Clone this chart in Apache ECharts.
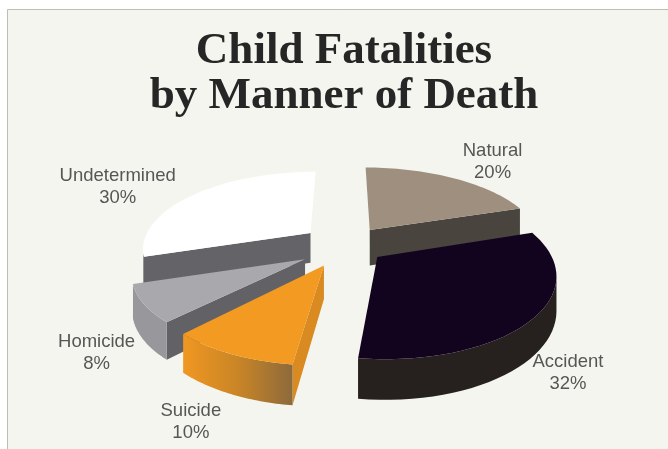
<!DOCTYPE html>
<html><head><meta charset="utf-8">
<style>html,body{margin:0;padding:0;background:#fff}#c{width:668px;height:449px}</style>
<script src="https://cdn.jsdelivr.net/npm/echarts@6/dist/echarts.min.js"></script>
</head><body><div id="c"></div>
<script>
const categories = ['Natural', 'Accident', 'Suicide', 'Homicide', 'Undetermined'];
const percentages = [20, 32, 10, 8, 30];

// look of each slice
const topColors = ['#9f8f7f', '#12041f', '#f29a22', '#a9a9ad', '#ffffff'];
const arcWalls = ['#4a443f', '#26211f', ['#f09722', '#c98526', '#8d6a3c'], '#98989c', '#646468'];
const radialWalls = ['#4a443f', '#26211f', '#d98a20', '#626266', '#646468'];
const paintOrder = [0, 4, 3, 2, 1];
const explode = [0.27, 0.24, 0.27, 0.27, 0.25];
const radiusX = [1.0, 0.97, 0.95, 0.94, 0.96];
const radiusY = [1.05, 1.03, 0.98, 0.94, 1.0];
const depthScale = [1.15, 1.0, 1.0, 1.0, 0.95];
const nudge = [[1, 3], [2, 2], [3, 3], [4, 5], [3, 1]];
const labelShift = [[40, -16], [33, 56], [-40, 68], [-47, 49], [-76, -8]];

// projection of the pie plane
const view = { cx: 342, cy: 243, A: 175, B: 76, k: 0.18, depth: 32 };

function project(x, y, drop, i) {
  const w = 1 - view.k * y;
  return [
    view.cx + nudge[i][0] + view.A * x / w,
    view.cy + nudge[i][1] + view.B * y / w + drop * view.depth * depthScale[i] / w
  ];
}
const total = percentages.reduce((a, b) => a + b, 0);

function renderSlice(params, api) {
  const i = params.dataIndex;
  const value = api.value(0);
  let before = 0;
  for (let j = 0; j < i; j++) before += percentages[j];
  const a0 = before / total * 2 * Math.PI;
  const a1 = (before + value) / total * 2 * Math.PI;
  const mid = (a0 + a1) / 2;
  const ox = explode[i] * Math.sin(mid), oy = -explode[i] * Math.cos(mid);
  const rimPoint = (a, drop) => project(ox + radiusX[i] * Math.sin(a), oy - radiusY[i] * Math.cos(a), drop, i);
  const arc = (drop) => {
    const pts = [];
    const n = 40;
    for (let s = 0; s <= n; s++) pts.push(rimPoint(a0 + (a1 - a0) * s / n, drop));
    return pts;
  };
  const topArc = arc(0), botArc = arc(1);
  const apexT = project(ox, oy, 0, i), apexB = project(ox, oy, 1, i);
  const base = paintOrder.indexOf(i) * 10;
  const children = [];
  const wall = (points, fill, z) => children.push({
    type: 'polygon', shape: { points }, style: { fill, stroke: 'none' }, z2: base + z, silent: true
  });
  // radial walls (only those clearly facing the viewer)
  if (topArc[0][0] < apexT[0] - 12) wall([apexT, topArc[0], botArc[0], apexB], radialWalls[i], 1);
  const last = topArc.length - 1;
  if (apexT[0] < topArc[last][0] - 12) wall([topArc[last], apexT, apexB, botArc[last]], radialWalls[i], 1);
  // outer wall: only the stretch that faces the viewer
  const front = [], frontB = [];
  for (let s = 0; s <= last; s++) {
    const goingLeft = (s < last) ? topArc[s + 1][0] < topArc[s][0] : topArc[s][0] < topArc[s - 1][0];
    if (goingLeft) { front.push(topArc[s]); frontB.push(botArc[s]); }
  }
  if (front.length > 1) {
    let fill = arcWalls[i];
    if (Array.isArray(fill)) {
      const xs = front.map(p => p[0]);
      const x0 = Math.min(...xs), x1 = Math.max(...xs);
      fill = { type: 'linear', x: x0, y: 0, x2: x1, y2: 0, global: true,
        colorStops: fill.map((c, k) => ({ offset: k / (fill.length - 1), color: c })) };
    }
    wall(front.concat(frontB.slice().reverse()), fill, 2);
  }
  // top face
  wall([apexT].concat(topArc), topColors[i], 3);
  // label
  const am = rimPoint(mid, 0);
  children.push({
    type: 'text', z2: 100, silent: true,
    style: {
      x: am[0] + labelShift[i][0], y: am[1] + labelShift[i][1],
      text: categories[i] + '\n' + value + '%',
      fill: '#565656', font: '18.5px "Liberation Sans"', align: 'center', verticalAlign: 'middle', lineHeight: 22
    }
  });
  return { type: 'group', children };
}

const chart = echarts.init(document.getElementById('c'), null, { renderer: 'canvas' });
chart.setOption({
  animation: false,
  backgroundColor: '#ffffff',
  graphic: [{
    type: 'rect', z: -10, silent: true,
    shape: { x: 7.5, y: 9.5, width: 670, height: 450 },
    style: { fill: '#f5f5ef', stroke: '#bdbdb6', lineWidth: 1 }
  }],
  title: {
    text: 'Child Fatalities\nby Manner of Death',
    left: 339, top: 24, textAlign: 'center',
    textStyle: { fontFamily: 'Liberation Serif', fontWeight: 'bold', fontSize: 45, lineHeight: 45, color: '#262626' }
  },
  series: [{
    type: 'custom',
    coordinateSystem: 'none',
    renderItem: renderSlice,
    data: percentages.map((v, i) => ({ name: categories[i], value: [v] }))
  }]
});
</script></body></html>
